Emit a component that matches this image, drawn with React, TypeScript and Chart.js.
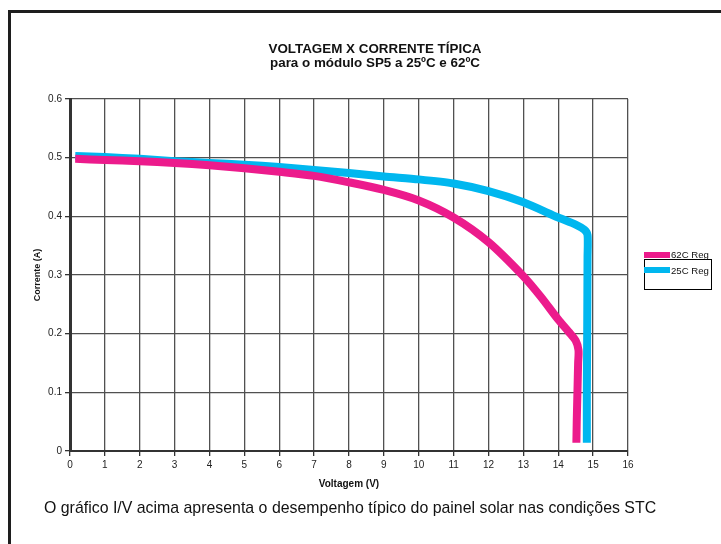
import React, { useEffect, useRef } from 'react';
import { Chart, registerables } from 'chart.js';
Chart.register(...registerables);

const titleLine1 = 'VOLTAGEM X CORRENTE TÍPICA';
const titleLine2 = 'para o módulo SP5 a 25ºC e 62ºC';
const xTitle = 'Voltagem (V)';
const yTitle = 'Corrente (A)';
const caption = 'O gráfico I/V acima apresenta o desempenho típico do painel solar nas condições STC';
const seriesNames = ['62C Reg', '25C Reg'];

const volt62 = [0.15, 1, 2, 3, 4, 5, 6, 7, 8, 9, 10, 11, 12, 13, 13.5, 14, 14.3, 14.5, 14.58, 14.57, 14.55, 14.53, 14.52];
const curr62 = [0.498, 0.496, 0.494, 0.491, 0.487, 0.482, 0.476, 0.469, 0.458, 0.445, 0.427, 0.398, 0.356, 0.298, 0.263, 0.224, 0.203, 0.188, 0.172, 0.15, 0.1, 0.05, 0.014];
const volt25 = [0.15, 1, 2, 3, 4, 5, 6, 7, 8, 9, 10, 11, 12, 13, 14, 14.5, 14.75, 14.84, 14.84, 14.83, 14.82, 14.82];
const curr25 = [0.503, 0.501, 0.498, 0.494, 0.491, 0.488, 0.484, 0.479, 0.474, 0.468, 0.463, 0.456, 0.443, 0.424, 0.398, 0.386, 0.377, 0.368, 0.33, 0.2, 0.1, 0.014];

const xMin = 0, xMax = 16, xStep = 1;
const yMin = 0, yMax = 0.6, yStep = 0.1;

const colors = ['#EC1B8C', '#00B7EF'];
const FONT = '"Liberation Sans", Arial, sans-serif';

export default function App() {
  const ref = useRef<HTMLCanvasElement>(null);
  useEffect(() => {
    const ctx = ref.current!;
    const chart = new Chart(ctx, {
      type: 'scatter',
      data: {
        datasets: [
          {
            label: seriesNames[0],
            data: volt62.map((v, i) => ({ x: v, y: curr62[i] })),
            showLine: true,
            borderColor: colors[0],
            backgroundColor: colors[0],
            borderWidth: 8,
            borderCapStyle: 'butt',
            borderJoinStyle: 'round',
            pointRadius: 0,
            tension: 0.3,
          },
          {
            label: seriesNames[1],
            data: volt25.map((v, i) => ({ x: v, y: curr25[i] })),
            showLine: true,
            borderColor: colors[1],
            backgroundColor: colors[1],
            borderWidth: 8,
            borderCapStyle: 'butt',
            borderJoinStyle: 'round',
            pointRadius: 0,
            tension: 0.25,
          },
        ],
      },
      options: {
        animation: false,
        responsive: false,
        devicePixelRatio: 1,
        layout: { padding: { left: 0, top: 99, right: 93, bottom: 0 } },
        plugins: { legend: { display: false }, tooltip: { enabled: false } },
        scales: {
          x: {
            type: 'linear',
            min: xMin,
            max: xMax,
            afterFit: (s: any) => { s.height = 93; },
            ticks: { stepSize: xStep, font: { size: 10, family: FONT }, color: '#222', padding: 3 },
            grid: { color: '#505050', lineWidth: 1.3, tickLength: 5, tickColor: '#333' },
            border: { color: '#333', width: 2 },
          },
          y: {
            type: 'linear',
            min: yMin,
            max: yMax,
            afterFit: (s: any) => { s.width = 70; },
            ticks: {
              stepSize: yStep,
              font: { size: 10, family: FONT },
              color: '#222',
              padding: 3,
              callback: (v: any) => (Math.abs(v) < 1e-9 ? '0' : Number(v).toFixed(1)),
            },
            grid: { color: '#505050', lineWidth: 1.3, tickLength: 5, tickColor: '#333' },
            border: { color: '#333', width: 3 },
          },
        },
      },
    });
    return () => chart.destroy();
  }, []);

  return (
    <div style={{ position: 'absolute', left: 0, top: 0, width: 721, height: 544, overflow: 'hidden', background: '#fff', fontFamily: FONT }}>
      <div style={{ position: 'absolute', left: 8, top: 10, width: 800, height: 600, border: '3px solid #1e1e1e', boxSizing: 'border-box' }} />
      <canvas ref={ref} width={721} height={544} style={{ position: 'absolute', left: 0, top: 0 }} />
      <div style={{ position: 'absolute', left: 175, width: 400, top: 42, textAlign: 'center', fontWeight: 'bold', fontSize: 13.4, lineHeight: '14px', color: '#111' }}>
        <div>{titleLine1}</div>
        <div>{titleLine2}</div>
      </div>
      <div style={{ position: 'absolute', left: 249, width: 200, top: 478, textAlign: 'center', fontWeight: 'bold', fontSize: 10, color: '#111' }}>{xTitle}</div>
      <div style={{ position: 'absolute', left: 37, top: 275, width: 0, height: 0 }}>
        <div style={{ position: 'absolute', left: -50, top: -7, width: 100, textAlign: 'center', transform: 'rotate(-90deg)', fontWeight: 'bold', fontSize: 9, lineHeight: '14px', color: '#111', whiteSpace: 'nowrap' }}>{yTitle}</div>
      </div>
      <div style={{ position: 'absolute', left: 644, top: 259, width: 68, height: 31, border: '1px solid #000', boxSizing: 'border-box' }} />
      <div style={{ position: 'absolute', left: 644, top: 252, width: 26, height: 6, background: colors[0] }} />
      <div style={{ position: 'absolute', left: 671, top: 249, fontSize: 9.6, lineHeight: '12px', color: '#111', whiteSpace: 'nowrap' }}>{seriesNames[0]}</div>
      <div style={{ position: 'absolute', left: 644, top: 267, width: 26, height: 6, background: colors[1] }} />
      <div style={{ position: 'absolute', left: 671, top: 265, fontSize: 9.6, lineHeight: '12px', color: '#111', whiteSpace: 'nowrap' }}>{seriesNames[1]}</div>
      <div style={{ position: 'absolute', left: 44, top: 498, fontSize: 15.9, lineHeight: '20px', color: '#111', whiteSpace: 'nowrap' }}>{caption}</div>
    </div>
  );
}
